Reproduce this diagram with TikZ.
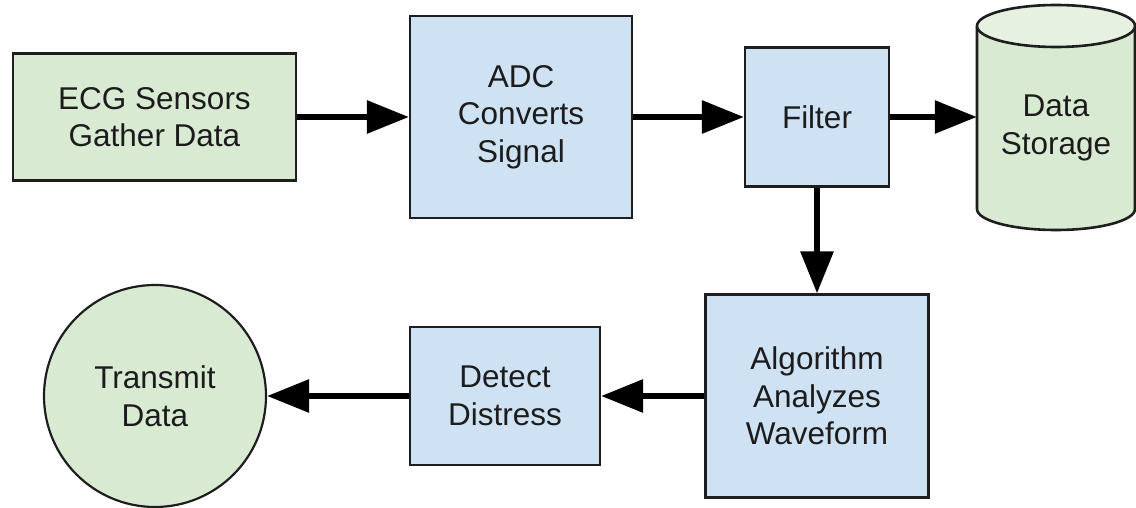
\documentclass[tikz,border=0pt]{standalone}
\usepackage{fontspec}
\setmainfont{Liberation Sans}
\usetikzlibrary{arrows.meta}
\definecolor{boxgreen}{HTML}{D9EAD3}
\definecolor{capgreen}{HTML}{E6F1E2}
\definecolor{boxblue}{HTML}{CFE2F3}
\definecolor{edge}{HTML}{1E1E1E}
\definecolor{txt}{HTML}{1C1C1C}
\tikzset{
  labeltext/.style={align=center, text=txt, font=\fontsize{31.5}{37.5}\selectfont, inner sep=0pt},
  base/.style={labeltext, draw=edge, line width=2.2pt},
  greenbox/.style={base, rectangle, fill=boxgreen},
  bluebox/.style={base, rectangle, fill=boxblue},
  greencircle/.style={base, circle, fill=boxgreen},
  flow/.style={line width=6pt, -{Triangle[length=42pt,width=32pt]}},
}
\begin{document}
\begin{tikzpicture}[x=1pt,y=1pt]
\useasboundingbox (0,0) rectangle (1136,507);
\node[greenbox, minimum width=283pt, minimum height=127pt] (ecg) at (154.5,390) {ECG Sensors\\Gather Data};
\node[bluebox, minimum width=222pt, minimum height=202pt] (adc) at (521,390) {ADC\\Converts\\Signal};
\node[bluebox, minimum width=144pt, minimum height=139pt] (filter) at (817,390) {Filter};
% cylinder drawn around an invisible node
\fill[boxgreen] (977,481) -- (977,298) arc[start angle=180,end angle=360,x radius=79,y radius=21] -- (1135,481) -- cycle;
\draw[draw=edge, line width=2.6pt] (977,481) -- (977,298) arc[start angle=180,end angle=360,x radius=79,y radius=21] -- (1135,481);
\draw[draw=edge, fill=capgreen, line width=2.6pt] (1056,481) ellipse[x radius=79, y radius=21];
\node[minimum width=158pt, minimum height=225pt, inner sep=0pt] (store) at (1056,390) {};
\node[labeltext] (storetext) at ([yshift=-11pt]store.center) {Data\\Storage};
\node[bluebox, minimum width=223pt, minimum height=203pt] (alg) at (817,111) {Algorithm\\Analyzes\\Waveform};
\node[bluebox, minimum width=190pt, minimum height=138pt] (detect) at (505,111) {Detect\\Distress};
\node[greencircle, minimum size=222pt] (tx) at (155,111) {Transmit\\Data};
\draw[flow] (ecg.east) -- (adc.west);
\draw[flow] (adc.east) -- (filter.west);
\draw[flow] (filter.east) -- (store.west);
\draw[flow] (filter.south) -- (alg.north);
\draw[flow] (alg.west) -- (detect.east);
\draw[flow] (detect.west) -- (tx.east);
\end{tikzpicture}
\end{document}
